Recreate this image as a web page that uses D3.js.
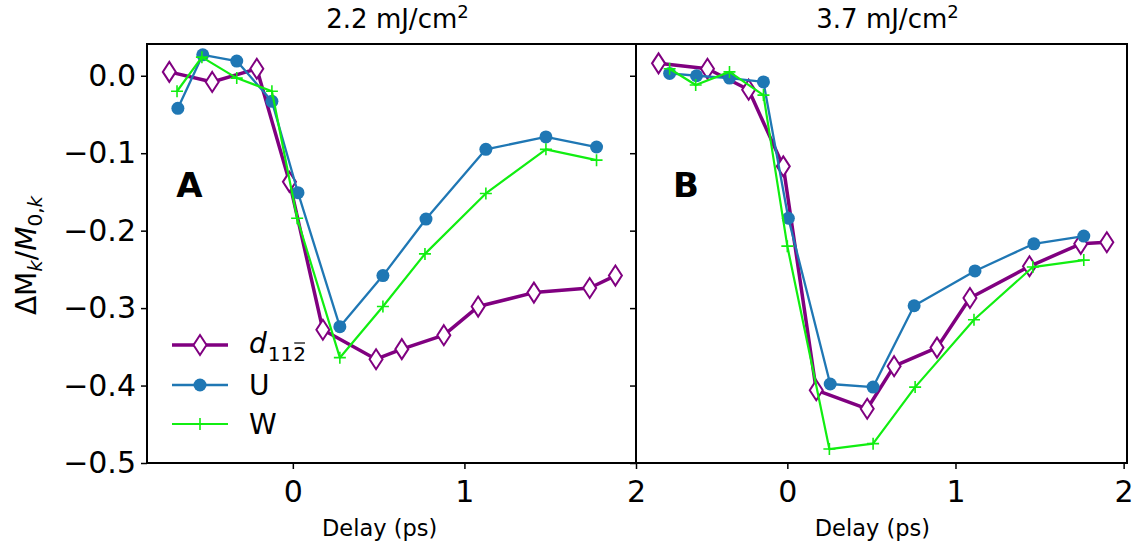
<!DOCTYPE html>
<html>
<head>
<meta charset="utf-8">
<script src="https://cdn.jsdelivr.net/npm/d3@7"></script>
<style>
  body { margin: 0; background: #fff; }
  svg { display: block; font-family: "DejaVu Sans", sans-serif; }
</style>
</head>
<body>
<div id="chart"></div>
<script>
// datos (delay en ps, cambio relativo)
const TITULOS = ["2.2 mJ/cm", "3.7 mJ/cm"];
const LETRAS = ["A", "B"];

// panel A - 2.2 mJ/cm2
const delayA_d = [-0.72, -0.47, -0.21, -0.02, 0.175, 0.485, 0.635, 0.88, 1.08, 1.405, 1.73, 1.88];
const valA_d = [0.005, -0.008, 0.009, -0.137, -0.328, -0.366, -0.353, -0.335, -0.298, -0.28, -0.274, -0.258];
const delayA_u = [-0.67, -0.525, -0.327, -0.122, 0.03, 0.274, 0.525, 0.776, 1.125, 1.475, 1.77];
const valA_u = [-0.042, 0.027, 0.019, -0.033, -0.151, -0.324, -0.258, -0.185, -0.095, -0.079, -0.092];
const delayA_w = [-0.675, -0.53, -0.327, -0.122, 0.025, 0.274, 0.525, 0.77, 1.125, 1.475, 1.77];
const valA_w = [-0.02, 0.024, -0.003, -0.02, -0.184, -0.364, -0.298, -0.23, -0.152, -0.095, -0.109];

// panel B - 3.7 mJ/cm2
const delayB_d = [-0.766, -0.475, -0.23, -0.024, 0.172, 0.475, 0.635, 0.89, 1.086, 1.44, 1.745, 1.9];
const valB_d = [0.016, 0.009, -0.018, -0.117, -0.406, -0.43, -0.375, -0.351, -0.287, -0.246, -0.217, -0.215];
const delayB_u = [-0.70, -0.54, -0.344, -0.142, 0.006, 0.255, 0.51, 0.754, 1.116, 1.466, 1.763];
const valB_u = [0.003, 0.0, -0.003, -0.008, -0.184, -0.398, -0.402, -0.297, -0.252, -0.217, -0.207];
const delayB_w = [-0.70, -0.545, -0.344, -0.142, 0.0, 0.25, 0.51, 0.76, 1.11, 1.46, 1.763];
const valB_w = [0.009, -0.012, 0.005, -0.025, -0.22, -0.482, -0.475, -0.402, -0.315, -0.247, -0.238];

const X_TICKS = [0, 1, 2];
const Y_TICKS = [0.0, -0.1, -0.2, -0.3, -0.4, -0.5];

const WIDTH = 1147;
const HEIGHT = 557;
const TOP = 44, BOTTOM = 463;

const COLORES = { d: "#800080", u: "#1f77b4", w: "#11ee11" };

const SVG = d3.select("#chart").append("svg")
  .attr("width", WIDTH).attr("height", HEIGHT);

const y = d3.scaleLinear().domain([-0.5, 0.041]).range([BOTTOM, TOP]);

const paneles = [
  { left: 147, right: 636, dom: [-0.85, 2.0],
    series: [
      { k: "d", x: delayA_d, v: valA_d },
      { k: "u", x: delayA_u, v: valA_u },
      { k: "w", x: delayA_w, v: valA_w }] },
  { left: 636, right: 1127, dom: [-0.9, 2.02],
    series: [
      { k: "d", x: delayB_d, v: valB_d },
      { k: "u", x: delayB_u, v: valB_u },
      { k: "w", x: delayB_w, v: valB_w }] }
];

const diamante = "M0,-10L6.5,0L0,10L-6.5,0Z";
const cruz = "M-6,0H6M0,-6V6";

function marcador(sel, k, color) {
  if (k === "d") {
    sel.append("path").attr("d", diamante)
      .attr("fill", "#fff").attr("stroke", color).attr("stroke-width", 2);
  } else if (k === "u") {
    sel.append("circle").attr("r", 6.5).attr("fill", color);
  } else {
    sel.append("path").attr("d", cruz)
      .attr("fill", "none").attr("stroke", color).attr("stroke-width", 1.6);
  }
}

const anchoLinea = { d: 3.5, u: 2.3, w: 2.2 };

paneles.forEach((p, i) => {
  const x = d3.scaleLinear().domain(p.dom).range([p.left, p.right]);
  const g = SVG.append("g");

  // lineas y marcadores
  p.series.forEach(s => {
    const pts = s.x.map((t, j) => [t, s.v[j]]);
    const color = COLORES[s.k];
    g.append("path")
      .datum(pts)
      .attr("fill", "none")
      .attr("stroke", color)
      .attr("stroke-width", anchoLinea[s.k])
      .attr("stroke-linejoin", "round")
      .attr("d", d3.line().x(d => x(d[0])).y(d => y(d[1])));
    g.selectAll(null).data(pts).join("g")
      .attr("transform", d => `translate(${x(d[0])},${y(d[1])})`)
      .each(function () { marcador(d3.select(this), s.k, color); });
  });

  // eje x
  const ax = g.append("g").attr("transform", `translate(0,${BOTTOM})`)
    .call(d3.axisBottom(x).tickValues(X_TICKS).tickFormat(d3.format("d")).tickSize(6).tickPadding(12));
  ax.select(".domain").remove();
  ax.selectAll("line").attr("stroke", "#000").attr("stroke-width", 1.5);
  ax.selectAll("text").attr("font-size", 30).attr("fill", "#000")
    .attr("font-family", "DejaVu Sans");

  // eje y
  const ay = g.append("g").attr("transform", `translate(${p.left},0)`)
    .call(d3.axisLeft(y).tickValues(Y_TICKS).tickSize(6).tickPadding(5)
      .tickFormat(i === 0 ? (d => d3.format(".1f")(d).replace("-", "\u2212")) : () => ""));
  ay.select(".domain").remove();
  ay.selectAll("line").attr("stroke", "#000").attr("stroke-width", 1.5);
  ay.selectAll("text").attr("font-size", 30).attr("fill", "#000")
    .attr("font-family", "DejaVu Sans");

  // marco
  g.append("rect")
    .attr("x", p.left).attr("y", TOP)
    .attr("width", p.right - p.left).attr("height", BOTTOM - TOP)
    .attr("fill", "none").attr("stroke", "#000").attr("stroke-width", 2);

  // titulo
  const cx = (p.left + p.right) / 2 + 6;
  const tt = g.append("text").attr("x", cx).attr("y", 28)
    .attr("text-anchor", "middle").attr("font-size", 26);
  tt.append("tspan").text(TITULOS[i]);
  tt.append("tspan").attr("dy", -10).attr("font-size", 18).text("2");

  // letra del panel
  g.append("text").attr("x", x(-0.68)).attr("y", 197)
    .attr("font-size", 34).attr("font-weight", "bold").text(LETRAS[i]);

  // etiqueta x
  g.append("text").attr("x", x(0.5) + 1).attr("y", 536)
    .attr("text-anchor", "middle").attr("font-size", 22.5).text("Delay (ps)");
});

// etiqueta y
const yl = SVG.append("text")
  .attr("transform", `translate(36,${(TOP + BOTTOM) / 2 + 2}) rotate(-90)`)
  .attr("text-anchor", "middle").attr("font-size", 28);
yl.append("tspan").text("\u0394M");
yl.append("tspan").attr("font-style", "italic").attr("font-size", 20).attr("dy", 6).text("k");
yl.append("tspan").attr("dy", -6).text("/");
yl.append("tspan").attr("font-style", "italic").text("M");
yl.append("tspan").attr("font-size", 20).attr("dy", 6).text("0,");
yl.append("tspan").attr("font-size", 20).attr("font-style", "italic").text("k");

// leyenda
const leyenda = [
  { k: "d", y: 345 },
  { k: "u", y: 385 },
  { k: "w", y: 424 }
];
const lg = SVG.append("g");
leyenda.forEach(e => {
  const color = COLORES[e.k];
  lg.append("line").attr("x1", 172).attr("x2", 228).attr("y1", e.y).attr("y2", e.y)
    .attr("stroke", color).attr("stroke-width", anchoLinea[e.k]);
  const m = lg.append("g").attr("transform", `translate(200,${e.y})`);
  marcador(m, e.k, color);
});
// texto d_{11 2barra}
const td = lg.append("text").attr("x", 249).attr("y", 353)
  .attr("font-size", 28).attr("font-style", "italic").text("d");
const wd = td.node().getComputedTextLength();
const t11 = lg.append("text").attr("x", 249 + wd + 1).attr("y", 361)
  .attr("font-size", 20).text("11");
const w11 = t11.node().getComputedTextLength();
const t2 = lg.append("text").attr("x", 249 + wd + 1 + w11).attr("y", 361)
  .attr("font-size", 20).text("2");
const b2 = t2.node().getBBox();
lg.append("line").attr("x1", b2.x + 1).attr("x2", b2.x + b2.width - 1)
  .attr("y1", b2.y + 1).attr("y2", b2.y + 1)
  .attr("stroke", "#000").attr("stroke-width", 1.2);
lg.append("text").attr("x", 249).attr("y", 395).attr("font-size", 28).text("U");
lg.append("text").attr("x", 249).attr("y", 434).attr("font-size", 28).text("W");
</script>
</body>
</html>
